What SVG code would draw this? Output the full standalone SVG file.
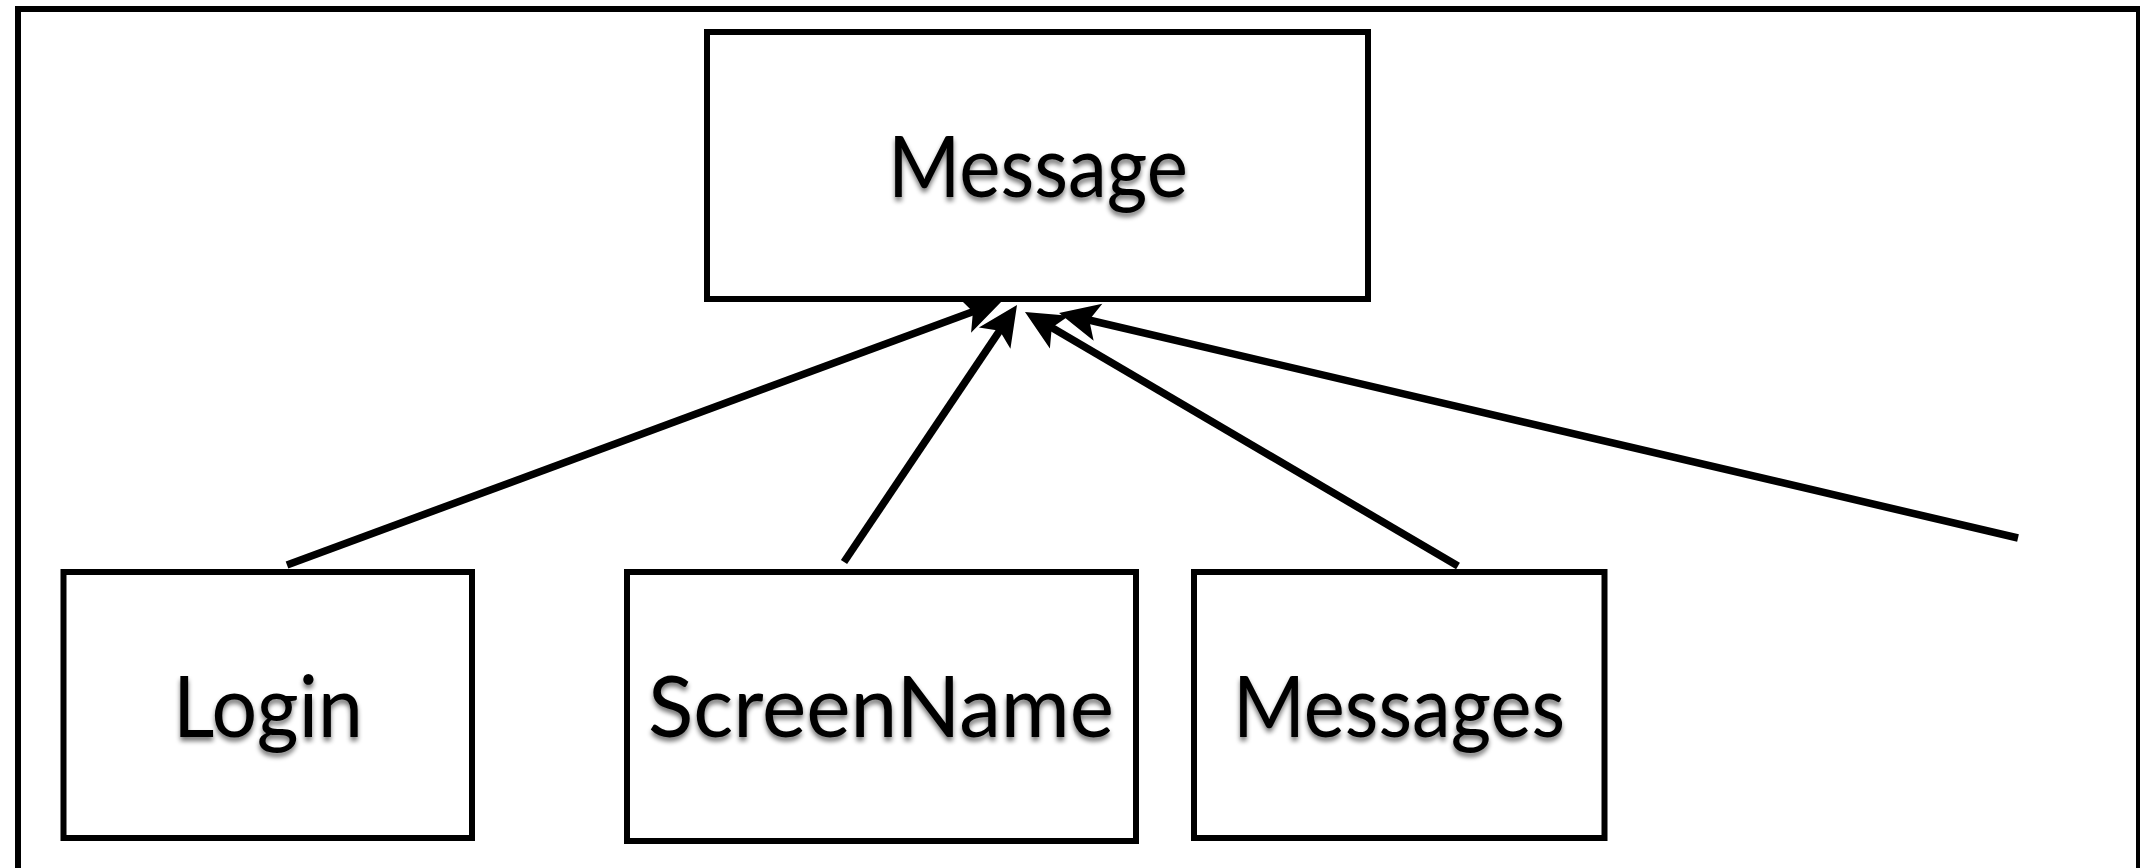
<svg xmlns="http://www.w3.org/2000/svg" width="2140" height="868" viewBox="0 0 2140 868">
  <style>
    .frame { fill: none; stroke: #000; stroke-width: 6; }
    .box { fill: #fff; stroke: #000; stroke-width: 6; }
    .label { font-family: Lato, "Liberation Sans", sans-serif; font-size: 85px; fill: #000; text-anchor: middle; filter: url(#shadow); }
    .edge { fill: none; stroke: #000; stroke-width: 7.5; stroke-linecap: butt; marker-end: url(#arrow); }
  </style>
  <defs>
    <filter id="shadow" x="-10%" y="-30%" width="120%" height="160%">
      <feGaussianBlur in="SourceAlpha" stdDeviation="2.5" result="b"/>
      <feOffset in="b" dx="0" dy="4" result="o"/>
      <feComponentTransfer in="o" result="s">
        <feFuncA type="linear" slope="0.55"/>
      </feComponentTransfer>
      <feMerge>
        <feMergeNode in="s"/>
        <feMergeNode in="SourceGraphic"/>
      </feMerge>
    </filter>
    <marker id="arrow" viewBox="-18 -21 44 42" refX="0" refY="0" markerWidth="44" markerHeight="42" markerUnits="userSpaceOnUse" orient="auto">
      <path d="M 24 0 L -16 -19 L -7 0 L -16 19 Z" fill="#000"/>
    </marker>
  </defs>
  <rect width="2140" height="868" fill="#fff"/>
  <rect class="frame" x="18" y="9" width="2121" height="880"/>

  <g id="connectors">
    <line class="edge" x1="287" y1="565" x2="979.5" y2="309.3"/>
    <line class="edge" x1="844" y1="562" x2="1003.6" y2="324.9"/>
    <line class="edge" x1="1458" y1="566" x2="1045.7" y2="324.1"/>
    <line class="edge" x1="2018" y1="538" x2="1082.4" y2="318.5"/>
  </g>

  <g id="message">
    <rect class="box" x="707" y="32" width="661" height="267"/>
    <text class="label" x="1038" y="197" textLength="300" lengthAdjust="spacingAndGlyphs">Message</text>
  </g>
  <g id="login">
    <rect class="box" x="63.5" y="572" width="408.5" height="266"/>
    <text class="label" x="268" y="737" textLength="190" lengthAdjust="spacingAndGlyphs">Login</text>
  </g>
  <g id="screenname">
    <rect class="box" x="627" y="572" width="509" height="269"/>
    <text class="label" x="881" y="737" textLength="466" lengthAdjust="spacingAndGlyphs">ScreenName</text>
  </g>
  <g id="messages">
    <rect class="box" x="1194" y="572" width="410.5" height="266"/>
    <text class="label" x="1399" y="737" textLength="332" lengthAdjust="spacingAndGlyphs">Messages</text>
  </g>
</svg>
